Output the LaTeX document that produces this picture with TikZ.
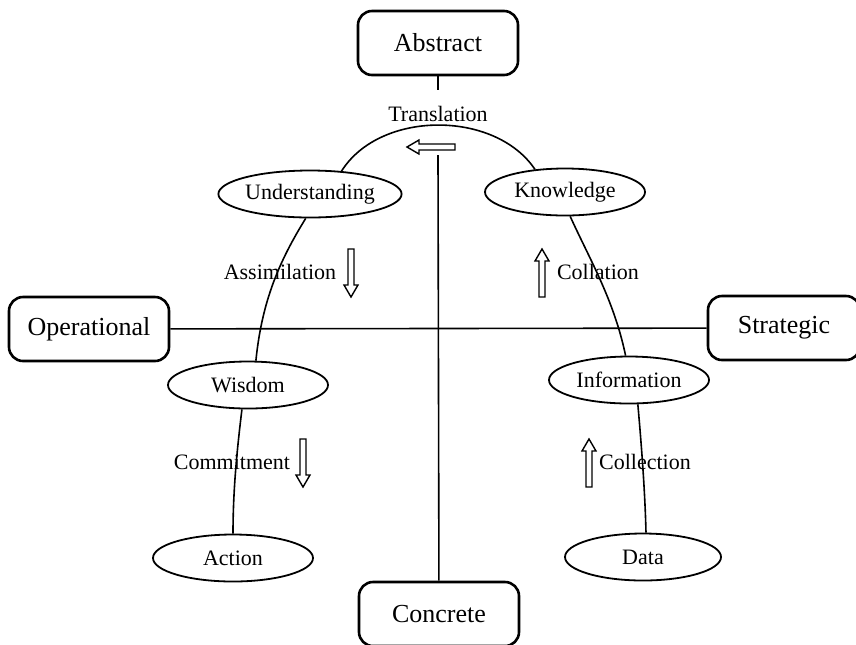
\documentclass[tikz,border=0pt]{standalone}
\usepackage{fontspec}
\setmainfont{Liberation Serif}
\usetikzlibrary{shapes.geometric}

\tikzset{
  levelbox/.style={draw, rounded corners=7pt, line width=1.3pt,
    minimum width=80pt, minimum height=32pt, font=\fontsize{13}{15}\selectfont},
  stage/.style={draw, ellipse, line width=0.9pt, inner sep=0pt,
    minimum width=80pt, minimum height=23.5pt, font=\fontsize{11}{13}\selectfont},
  process/.style={font=\fontsize{11}{13}\selectfont, inner sep=0pt},
  link/.style={line width=0.8pt},
  % hollow block arrow, drawn pointing down from its tail
  hollow/.pic={\draw[line width=0.7pt] (-3,0) -- (-3,36) -- (-7,36) -- (0,48)
      -- (7,36) -- (3,36) -- (3,0) -- cycle;}
}

\begin{document}
\begin{tikzpicture}[x=0.5pt, y=-0.5pt]
   \useasboundingbox (0,0) rectangle (856,644);
   \clip (0,0) rectangle (856,644);

   % the four ends of the axes
   \node[levelbox] (abstract) at (438,43) {Abstract};
   \node[levelbox] (concrete) at (439,614) {Concrete};
   \node[levelbox] (operational) at (89,329) {Operational};
   \node[levelbox, minimum width=76pt] (strategic) at (784,328) {Strategic};

   \draw[link] (operational) -- (strategic);
   \coordinate (stub) at (438,90);
   \coordinate (axis) at (438,155);
   \draw[link] (abstract) -- (stub);
   \draw[link] (axis) -- (concrete);

   % the stages
   \node[stage] (understanding) at (310,194) {Understanding};
   \node[stage] (knowledge) at (565,192) {Knowledge};
   \node[stage] (wisdom) at (248,385) {Wisdom};
   \node[stage] (information) at (629,380) {Information};
   \node[stage] (action) at (233,558) {Action};
   \node[stage, minimum width=78pt] (data) at (643,557) {Data};

   % the curve through them
   \draw[link] (understanding.36) .. controls (380,110) and (495,110) .. (knowledge.143);
   \draw[link] (understanding.260) .. controls (280,260) and (262,300) .. (wisdom.72);
   \draw[link] (wisdom.256) .. controls (237,450) and (233,490) .. (action.north);
   \draw[link] (knowledge.282) .. controls (590,260) and (614,300) .. (information.98);
   \draw[link] (information.290) .. controls (641,440) and (645,490) .. (data.83);

   % processes
   \node[process] (translation) at (438,114) {Translation};
   \node[process] (assimilation) at (280,272) {Assimilation};
   \node[process] (collation) at (598,272) {Collation};
   \node[process] (commitment) at (232,462) {Commitment};
   \node[process] (collection) at (645,462) {Collection};

   \pic[rotate=-90] at (455,147) {hollow};
   \pic at (351,249) {hollow};
   \pic[rotate=180] at (542,297) {hollow};
   \pic at (303,439) {hollow};
   \pic[rotate=180] at (589,487) {hollow};
\end{tikzpicture}
\end{document}
